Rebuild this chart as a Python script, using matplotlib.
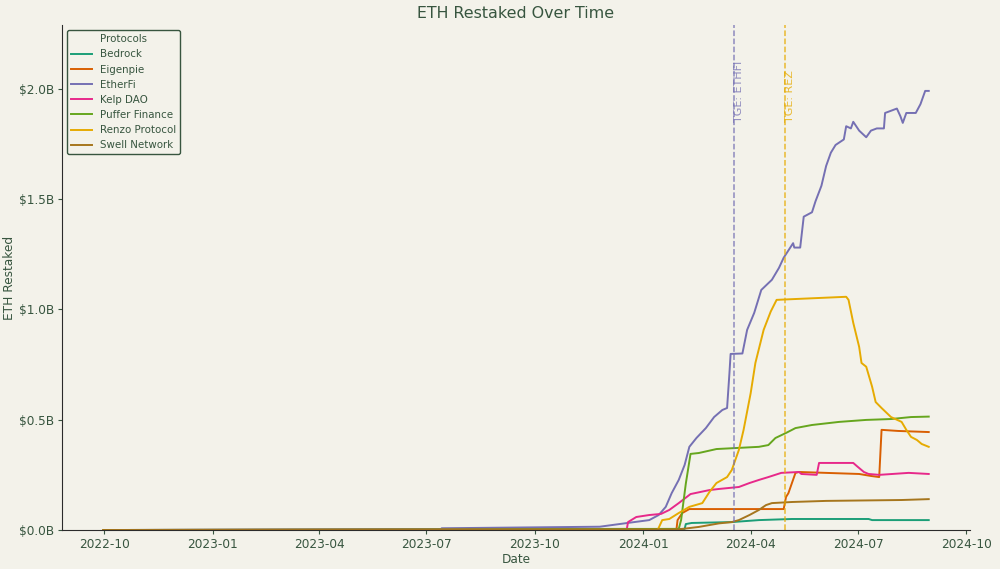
import matplotlib.pyplot as plt
import matplotlib.dates as mdates
import pandas as pd
from matplotlib.ticker import FuncFormatter

# ETH restaked per protocol, in billions of USD
START = "2022-09-30"

bedrock_dates = [START, "2023-10-28", "2024-02-05", "2024-02-06", "2024-02-11", "2024-03-16",
                 "2024-04-08", "2024-05-06", "2024-07-10", "2024-07-13", "2024-08-30"]
bedrock_vals = [0.0, 0.005, 0.005, 0.027, 0.032, 0.036, 0.045, 0.05, 0.05, 0.045, 0.045]

eigenpie_dates = [START, "2024-01-29", "2024-01-30", "2024-02-03", "2024-02-09", "2024-04-29",
                  "2024-05-01", "2024-05-03", "2024-05-09", "2024-05-12", "2024-07-02",
                  "2024-07-12", "2024-07-19", "2024-07-21", "2024-08-04", "2024-08-30"]
eigenpie_vals = [0.0, 0.0, 0.045, 0.077, 0.095, 0.095, 0.15, 0.167, 0.259, 0.263, 0.254,
                 0.245, 0.24, 0.454, 0.449, 0.444]

etherfi_dates = [START, "2023-07-13", "2023-07-14", "2023-11-25", "2023-12-20", "2024-01-06",
                 "2024-01-14", "2024-01-20", "2024-01-25", "2024-01-31", "2024-02-05",
                 "2024-02-09", "2024-02-15", "2024-02-23", "2024-03-01", "2024-03-08",
                 "2024-03-12", "2024-03-14", "2024-03-15", "2024-03-25", "2024-03-29",
                 "2024-04-04", "2024-04-10", "2024-04-19", "2024-04-25", "2024-04-29",
                 "2024-05-07", "2024-05-08", "2024-05-13", "2024-05-16", "2024-05-23",
                 "2024-05-26", "2024-05-31", "2024-06-04", "2024-06-08", "2024-06-12",
                 "2024-06-19", "2024-06-21", "2024-06-25", "2024-06-27", "2024-07-02",
                 "2024-07-08", "2024-07-12", "2024-07-17", "2024-07-23", "2024-07-24",
                 "2024-07-29", "2024-08-03", "2024-08-06", "2024-08-08", "2024-08-11",
                 "2024-08-19", "2024-08-23", "2024-08-27", "2024-08-30"]
etherfi_vals = [0.0, 0.0, 0.008, 0.015, 0.033, 0.045, 0.068, 0.105, 0.167, 0.227, 0.295,
                0.377, 0.417, 0.462, 0.512, 0.544, 0.553, 0.711, 0.798, 0.80, 0.907,
                0.984, 1.088, 1.134, 1.188, 1.234, 1.30, 1.28, 1.28, 1.42, 1.44,
                1.49, 1.56, 1.65, 1.71, 1.745, 1.77, 1.83, 1.82, 1.85, 1.81,
                1.78, 1.81, 1.82, 1.82, 1.89, 1.90, 1.91, 1.875, 1.845, 1.89,
                1.89, 1.93, 1.99, 1.99]

kelp_dates = [START, "2023-12-18", "2023-12-19", "2023-12-26", "2024-01-06", "2024-01-16",
              "2024-01-23", "2024-01-31", "2024-02-10", "2024-02-26", "2024-03-05",
              "2024-03-22", "2024-03-31", "2024-04-08", "2024-04-16", "2024-04-27",
              "2024-05-12", "2024-05-14", "2024-05-27", "2024-05-29", "2024-06-27",
              "2024-06-30", "2024-07-06", "2024-07-10", "2024-07-19", "2024-08-13",
              "2024-08-30"]
kelp_vals = [0.0, 0.005, 0.036, 0.059, 0.068, 0.073, 0.091, 0.122, 0.163, 0.181, 0.186,
             0.195, 0.213, 0.227, 0.24, 0.259, 0.263, 0.254, 0.25, 0.304, 0.304,
             0.29, 0.263, 0.254, 0.25, 0.259, 0.254]

puffer_dates = [START, "2024-01-31", "2024-02-02", "2024-02-06", "2024-02-10", "2024-02-17",
                "2024-03-03", "2024-04-08", "2024-04-16", "2024-04-22", "2024-05-01",
                "2024-05-09", "2024-05-23", "2024-06-15", "2024-07-08", "2024-07-29",
                "2024-08-15", "2024-08-30"]
puffer_vals = [0.0, 0.005, 0.045, 0.21, 0.345, 0.349, 0.367, 0.377, 0.385, 0.417, 0.44,
               0.462, 0.476, 0.49, 0.499, 0.503, 0.512, 0.514]

renzo_dates = [START, "2024-01-13", "2024-01-14", "2024-01-17", "2024-01-23", "2024-01-31",
               "2024-02-09", "2024-02-20", "2024-02-26", "2024-03-03", "2024-03-12",
               "2024-03-16", "2024-03-22", "2024-03-26", "2024-04-01", "2024-04-05",
               "2024-04-12", "2024-04-18", "2024-04-23", "2024-05-01", "2024-06-21",
               "2024-06-23", "2024-06-27", "2024-07-02", "2024-07-04", "2024-07-08",
               "2024-07-13", "2024-07-16", "2024-07-21", "2024-07-29", "2024-08-07",
               "2024-08-11", "2024-08-15", "2024-08-20", "2024-08-24", "2024-08-30"]
renzo_vals = [0.0, 0.0, 0.01, 0.045, 0.05, 0.077, 0.105, 0.122, 0.172, 0.213, 0.24,
              0.272, 0.363, 0.454, 0.62, 0.757, 0.907, 0.99, 1.043, 1.045, 1.057,
              1.043, 0.939, 0.83, 0.757, 0.74, 0.649, 0.58, 0.553, 0.512, 0.49,
              0.454, 0.422, 0.408, 0.39, 0.377]

swell_dates = [START, "2024-01-31", "2024-02-17", "2024-03-05", "2024-03-16", "2024-03-22",
               "2024-03-31", "2024-04-08", "2024-04-14", "2024-04-19", "2024-05-06",
               "2024-06-04", "2024-08-07", "2024-08-30"]
swell_vals = [0.0, 0.003, 0.014, 0.03, 0.036, 0.045, 0.068, 0.091, 0.113, 0.122, 0.127,
              0.132, 0.136, 0.14]

protocols = ["Bedrock", "Eigenpie", "EtherFi", "Kelp DAO", "Puffer Finance",
             "Renzo Protocol", "Swell Network"]
series_dates = [bedrock_dates, eigenpie_dates, etherfi_dates, kelp_dates,
                puffer_dates, renzo_dates, swell_dates]
series_vals = [bedrock_vals, eigenpie_vals, etherfi_vals, kelp_vals,
               puffer_vals, renzo_vals, swell_vals]
colors = ["#1b9e77", "#d95f02", "#7570b3", "#e7298a", "#66a61e", "#e6ab02", "#a6761d"]

events = ["TGE: ETHFI", "TGE: REZ"]
event_dates = ["2024-03-18", "2024-04-30"]
event_colors = ["#7570b3", "#e6ab02"]

bg = "#f3f2ea"
text_color = "#37553f"

fig = plt.figure(figsize=(10, 5.69), dpi=100, facecolor=bg)
ax = fig.add_axes([0.062, 0.0685, 0.908, 0.8875], facecolor=bg)

for name, d, v, c in zip(protocols, series_dates, series_vals, colors):
    ax.plot(pd.to_datetime(d), v, color=c, linewidth=1.4, label=name)

ymax = max(max(v) for v in series_vals)
ax.set_ylim(0, ymax * 1.15)

for label, d, c in zip(events, event_dates, event_colors):
    x = pd.Timestamp(d)
    ax.axvline(x, color=c, linestyle="--", linewidth=1.1, alpha=0.8)
    ax.text(x, 1.85, label, rotation=90, color=c, alpha=0.8, fontsize=8,
            ha="left", va="bottom")

ax.set_title("ETH Restaked Over Time", fontsize=11.4, color=text_color, pad=5)
ax.set_xlabel("Date", fontsize=8.7, color=text_color, labelpad=2)
ax.set_ylabel("ETH Restaked", fontsize=8.7, color=text_color, labelpad=2)

ax.xaxis.set_major_locator(mdates.MonthLocator(bymonth=[1, 4, 7, 10]))
ax.xaxis.set_major_formatter(mdates.DateFormatter("%Y-%m"))
ax.yaxis.set_major_formatter(FuncFormatter(lambda v, p: f"${v:.1f}B"))
ax.tick_params(colors=text_color, labelsize=8.7, length=3, pad=2.5)

for side in ["top", "right"]:
    ax.spines[side].set_visible(False)
for side in ["left", "bottom"]:
    ax.spines[side].set_color("#2b2b2b")

leg = ax.legend(title="Protocols", loc="upper left", fontsize=7.4, title_fontsize=7.4,
                facecolor=bg, edgecolor=text_color, framealpha=1, fancybox=True)
for t in leg.get_texts():
    t.set_color(text_color)
leg.get_title().set_color(text_color)

fig.savefig("out.png", dpi=100, facecolor=bg)
